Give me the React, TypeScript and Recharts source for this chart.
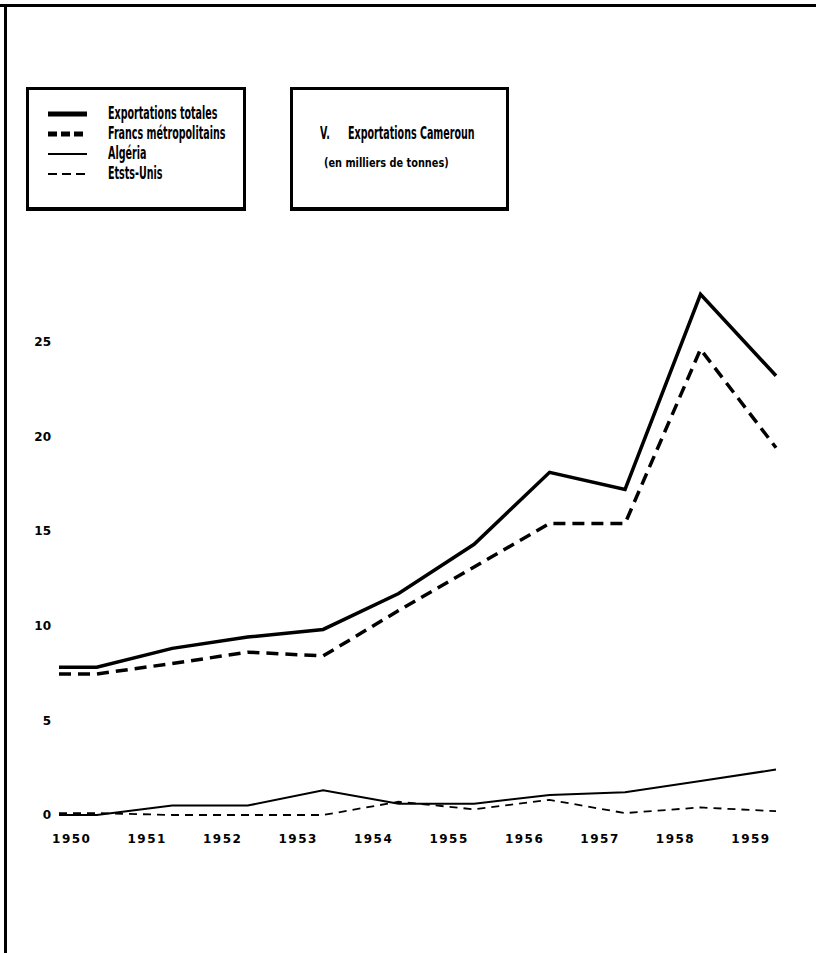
import { LineChart, Line, XAxis, YAxis } from "recharts";

// years on the horizontal axis; the first entry is the short lead-in the
// original drawing starts with, half a year before 1950
const years = [1949.5, 1950, 1951, 1952, 1953, 1954, 1955, 1956, 1957, 1958, 1959];
const yearTicks = [1950, 1951, 1952, 1953, 1954, 1955, 1956, 1957, 1958, 1959];
const valueTicks = [0, 5, 10, 15, 20, 25];

// thousands of tonnes
const totales = [7.8, 7.8, 8.8, 9.4, 9.8, 11.7, 14.3, 18.1, 17.2, 27.5, 23.2];
const metropole = [7.45, 7.45, 8.0, 8.6, 8.4, 10.8, 13.1, 15.4, 15.4, 24.6, 19.4];
const algerie = [0, 0, 0.5, 0.5, 1.3, 0.6, 0.6, 1.05, 1.2, 1.8, 2.4];
const etatsUnis = [0.1, 0.1, 0, 0, 0, 0.7, 0.3, 0.8, 0.1, 0.4, 0.2];

const data = years.map((year, i) => ({
  year,
  totales: totales[i],
  metropole: metropole[i],
  algerie: algerie[i],
  etatsUnis: etatsUnis[i],
}));

const series = [
  { key: "totales", name: "Exportations totales", width: 3.5, dash: undefined, legendWidth: 5, legendDash: undefined },
  { key: "metropole", name: "Francs métropolitains", width: 3.5, dash: "12 7", legendWidth: 5, legendDash: "9 4" },
  { key: "algerie", name: "Algéria", width: 2, dash: undefined, legendWidth: 2, legendDash: undefined },
  { key: "etatsUnis", name: "Etsts-Unis", width: 1.8, dash: "8 6", legendWidth: 2, legendDash: "9 5" },
];

const font = "'DejaVu Sans', sans-serif";

// the scan uses a tall, very narrow face
function Narrow({ children, size, scale = 0.53 }: { children: any; size: number; scale?: number }) {
  return (
    <span
      style={{
        display: "inline-block",
        fontFamily: font,
        fontWeight: 700,
        fontSize: size,
        whiteSpace: "nowrap",
        transform: `scaleX(${scale})`,
        transformOrigin: "left center",
        color: "#000",
      }}
    >
      {children}
    </span>
  );
}

function LegendBox() {
  return (
    <div
      style={{
        position: "absolute",
        top: 87,
        left: 26,
        width: 220,
        height: 124,
        border: "3px solid #000",
        borderBottomWidth: 4,
        boxSizing: "border-box",
        paddingTop: 14,
      }}
    >
      {series.map((s) => (
        <div key={s.key} style={{ position: "relative", height: 20 }}>
          <svg width={80} height={20} style={{ position: "absolute", left: 0, top: 0 }}>
            <line
              x1={19}
              x2={58}
              y1={10}
              y2={10}
              stroke="#000"
              strokeWidth={s.legendWidth}
              strokeDasharray={s.legendDash}
            />
          </svg>
          <div style={{ position: "absolute", left: 79, top: -1, lineHeight: "20px" }}>
            <Narrow size={18}>{s.name}</Narrow>
          </div>
        </div>
      ))}
    </div>
  );
}

function TitleBox() {
  return (
    <div
      style={{
        position: "absolute",
        top: 87,
        left: 290,
        width: 219,
        height: 124,
        border: "3px solid #000",
        borderBottomWidth: 4,
        boxSizing: "border-box",
      }}
    >
      <div style={{ position: "absolute", top: 32, left: 27 }}>
        <Narrow size={18}>V.</Narrow>
      </div>
      <div style={{ position: "absolute", top: 32, left: 55 }}>
        <Narrow size={18}>Exportations Cameroun</Narrow>
      </div>
      <div style={{ position: "absolute", top: 63, left: 31 }}>
        <Narrow size={13} scale={0.75}>(en milliers de tonnes)</Narrow>
      </div>
    </div>
  );
}

function YearTick(props: any) {
  const { x, y, payload } = props;
  return (
    <text
      x={x - 25}
      y={y + 20}
      textAnchor="middle"
      fontFamily={font}
      fontWeight={700}
      fontSize={12}
      letterSpacing={1.5}
      fill="#000"
    >
      {payload.value}
    </text>
  );
}

export default function App() {
  return (
    <div style={{ position: "absolute", top: 0, left: 0, width: 816, height: 953, background: "#fff" }}>
      {/* frame of the scanned page */}
      <div style={{ position: "absolute", top: 4, left: 0, width: 816, height: 3, background: "#000" }} />
      <div style={{ position: "absolute", top: 4, left: 4, width: 3, height: 949, background: "#000" }} />

      <LegendBox />
      <TitleBox />

      <div style={{ position: "absolute", top: 0, left: 0 }}>
        <LineChart
          width={816}
          height={953}
          data={data}
          margin={{ top: 247, right: 40, bottom: 108, left: 0 }}
        >
          <XAxis
            dataKey="year"
            type="number"
            domain={[1949.5, 1959]}
            ticks={yearTicks}
            height={30}
            axisLine={false}
            tickLine={false}
            tick={<YearTick />}
            interval={0}
          />
          <YAxis
            type="number"
            domain={[0, 30]}
            ticks={valueTicks}
            width={59}
            axisLine={false}
            tickLine={false}
            tick={{ fontFamily: font, fontWeight: 700, fontSize: 12, fill: "#000" }}
            interval={0}
          />
          {series.map((s) => (
            <Line
              key={s.key}
              dataKey={s.key}
              name={s.name}
              type="linear"
              stroke="#000"
              strokeWidth={s.width}
              strokeDasharray={s.dash}
              strokeLinejoin="miter"
              dot={false}
              activeDot={false}
              isAnimationActive={false}
            />
          ))}
        </LineChart>
      </div>
    </div>
  );
}
